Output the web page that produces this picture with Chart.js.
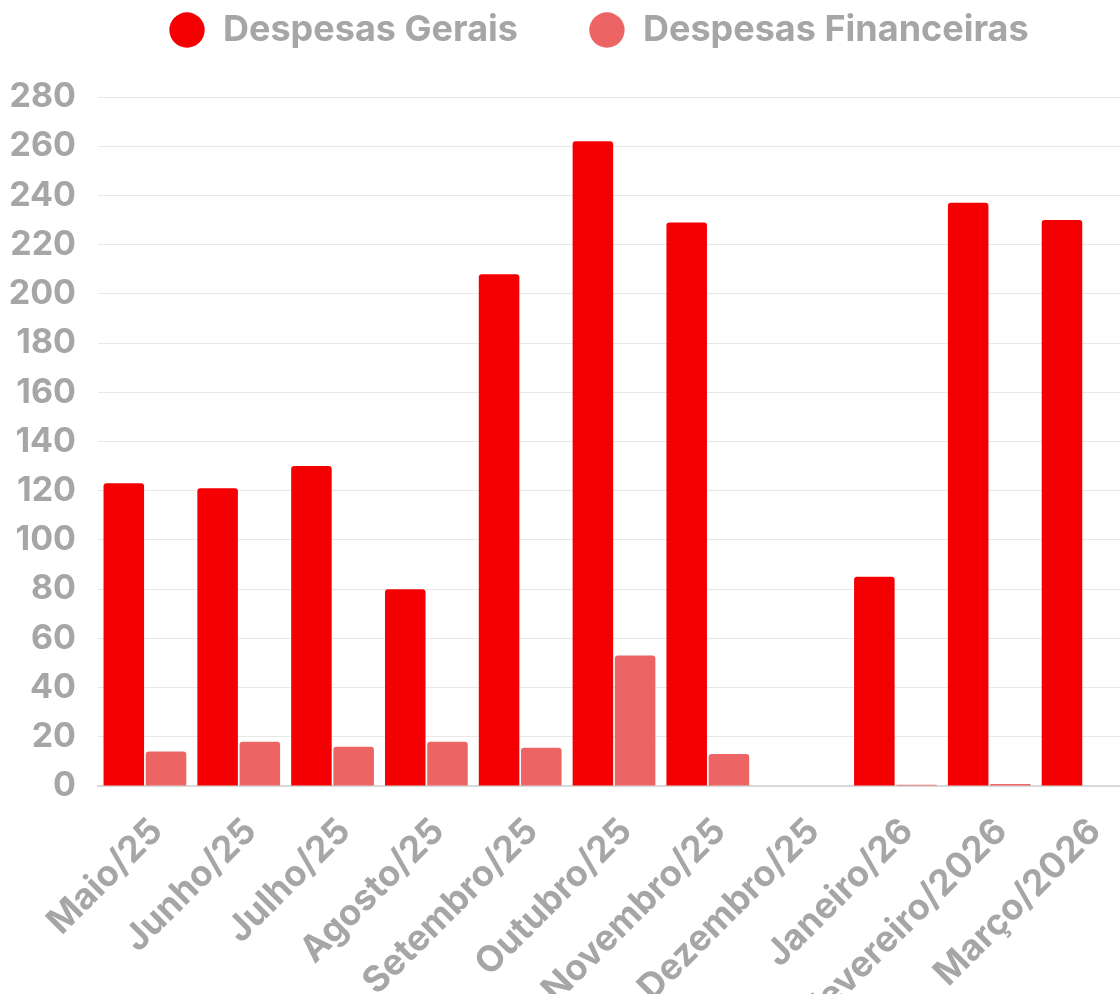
<!DOCTYPE html>
<html>
<head>
<meta charset="utf-8">
<script src="https://cdn.jsdelivr.net/npm/chart.js@4.4.1/dist/chart.umd.min.js"></script>
<style>
  html, body { margin: 0; padding: 0; background: #fff; overflow: hidden; }
  #wrap { width: 1210px; height: 1100px; }
</style>
</head>
<body>
<div id="wrap"><canvas id="chart" width="1210" height="1100"></canvas></div>
<script>
// Months on the x axis
const months = [
  'Maio/25', 'Junho/25', 'Julho/25', 'Agosto/25', 'Setembro/25', 'Outubro/25',
  'Novembro/25', 'Dezembro/25', 'Janeiro/26', 'Fevereiro/2026', 'Março/2026'
];

// Values
const despesasGerais = [123, 121, 130, 80, 208, 262, 229, 0, 85, 237, 230];
const despesasFinanceiras = [14, 18, 16, 18, 15.5, 53, 13, 0, 0.5, 0.8, 0];

const yTicks = [0, 20, 40, 60, 80, 100, 120, 140, 160, 180, 200, 220, 240, 260, 280];

const grey = '#a6a6a6';
const fontFamily = 'Inter, "Open Sans", sans-serif';

// legend sits high, plot starts lower -> force the legend box height
const legendHeight = {
  id: 'legendHeight',
  beforeInit(chart) {
    const fit = chart.legend.fit;
    chart.legend.fit = function () {
      fit.bind(chart.legend)();
      this.height = 156;
    };
  }
};

const ctx = document.getElementById('chart').getContext('2d');

new Chart(ctx, {
  type: 'bar',
  data: {
    labels: months,
    datasets: [
      {
        label: 'Despesas Gerais',
        data: despesasGerais,
        backgroundColor: '#f40002',
        borderRadius: 3,
        borderSkipped: 'bottom',
        categoryPercentage: 0.9,
        barPercentage: 0.96
      },
      {
        label: 'Despesas Financeiras',
        data: despesasFinanceiras,
        backgroundColor: '#ec6464',
        borderRadius: 3,
        borderSkipped: 'bottom',
        categoryPercentage: 0.9,
        barPercentage: 0.96
      }
    ]
  },
  plugins: [legendHeight],
  options: {
    responsive: false,
    animation: false,
    layout: { padding: { left: 10, right: 80, top: -59, bottom: 0 } },
    scales: {
      y: {
        min: 0,
        max: 280,
        afterBuildTicks: (scale) => {
          scale.ticks = yTicks.map(v => ({ value: v }));
        },
        afterFit: (scale) => { scale.width = 88; },
        ticks: {
          color: grey,
          padding: 22,
          font: { family: fontFamily, size: 34, weight: 'bold' }
        },
        grid: { color: '#e8e8e8', drawTicks: false },
        border: { display: false }
      },
      x: {
        afterFit: (scale) => { scale.height = 314; },
        ticks: {
          color: grey,
          maxRotation: 45,
          minRotation: 45,
          padding: 16,
          labelOffset: 12,
          font: { family: fontFamily, size: 36, weight: 'bold' }
        },
        grid: { display: false },
        border: { color: '#d9d9d9', width: 2 }
      }
    },
    plugins: {
      legend: {
        position: 'top',
        fullSize: false,
        align: 'start',
        labels: {
          color: grey,
          usePointStyle: true,
          pointStyle: 'circle',
          boxHeight: 25,
          padding: 71,
          font: { family: fontFamily, size: 36, weight: 'bold' }
        }
      },
      tooltip: { enabled: false }
    }
  }
});
</script>
</body>
</html>
